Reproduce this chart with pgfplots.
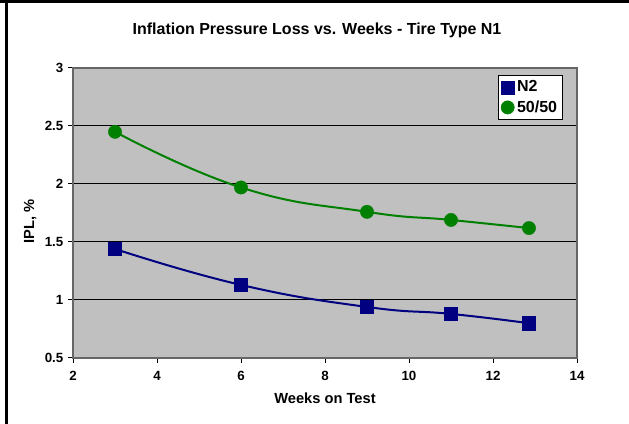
\documentclass[border=0pt]{standalone}
\usepackage{fontspec}
\setmainfont{Liberation Sans}
\usepackage{pgfplots}
\pgfplotsset{compat=1.18}
\definecolor{plotgray}{HTML}{C0C0C0}
\definecolor{xlnavy}{HTML}{000080}
\definecolor{xlgreen}{HTML}{008000}
\begin{document}
\begin{tikzpicture}[x=0.75pt,y=0.75pt]
\useasboundingbox (0,0) rectangle (629,424);
\fill[white] (0,0) rectangle (629,424);
\draw[line width=2.25pt] (6.5,0) -- (6.5,424);
\draw[line width=2.25pt] (0,422.5) -- (629,422.5);
\node[font=\bfseries\fontsize{12}{14}\selectfont] at (317,394) {Inflation Pressure Loss vs. Weeks - Tire Type N1};
\begin{axis}[
  at={(54.75pt,49.5pt)}, anchor=south west,
  scale only axis, width=378pt, height=217.5pt,
  xmin=2, xmax=14, ymin=0.5, ymax=3,
  xtick={2,4,...,14}, ytick={0.5,1,1.5,2,2.5,3},
  axis background/.style={fill=plotgray},
  ymajorgrids, grid style={black, line width=0.75pt},
  axis line style={black!60, line width=0.9pt},
  tick style={black, line width=0.75pt},
  tick align=outside, major tick length=3.75pt,
  xtick pos=bottom, ytick pos=left,
  /pgf/number format/assume math mode=true,
  ticklabel style={font=\bfseries\fontsize{10}{12}\selectfont},
  xticklabel style={yshift=-2.5pt},
  xlabel={Weeks on Test}, ylabel={IPL, \%},
  label style={font=\bfseries\fontsize{11}{13}\selectfont},
  xlabel style={at={(axis description cs:0.5,-0.14)}, anchor=center},
  ylabel style={at={(axis description cs:-0.085,0.47)}, anchor=center, rotate=0},
  legend style={at={(rel axis cs:0.972,0.976)}, anchor=north east, draw=black, fill=white,
    font=\bfseries\fontsize{12}{14}\selectfont, inner sep=2pt, row sep=1pt,
    line width=0.75pt},
  legend cell align=left,
]
\addplot[xlnavy, line width=1.5pt, smooth, tension=0.8, forget plot] coordinates {
 (3,1.44) (6,1.13) (9,0.94) (11,0.88) (12.857,0.80)};
\addplot[xlgreen, line width=1.5pt, smooth, tension=0.8, forget plot] coordinates {
 (3,2.45) (6,1.97) (9,1.76) (11,1.69) (12.857,1.62)};
\addplot[only marks, mark=square*, mark size=5pt, mark options={fill=xlnavy, draw=xlnavy, line width=0.3pt}] coordinates {
 (3,1.44) (6,1.13) (9,0.94) (11,0.88) (12.857,0.80)};
\addlegendentry{N2}
\addplot[only marks, mark=*, mark size=5pt, mark options={fill=xlgreen, draw=xlgreen, line width=0.3pt}] coordinates {
 (3,2.45) (6,1.97) (9,1.76) (11,1.69) (12.857,1.62)};
\addlegendentry{50/50}
\end{axis}
\end{tikzpicture}
\end{document}
